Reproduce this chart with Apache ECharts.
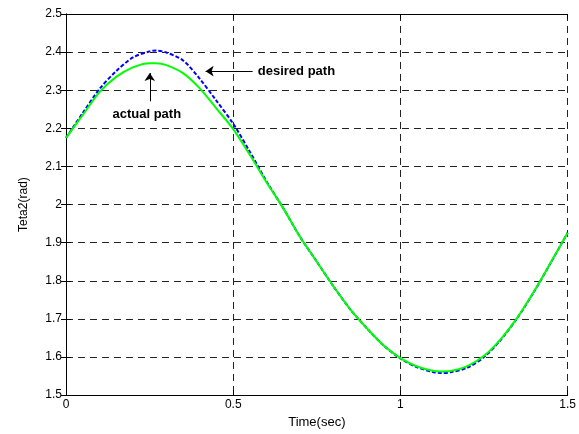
<!DOCTYPE html>
<html><head><meta charset="utf-8">
<script src="https://cdn.jsdelivr.net/npm/echarts@6/dist/echarts.min.js"></script>
<style>html,body{margin:0;padding:0;background:#fff}#c{width:579px;height:434px}</style>
</head><body><div id="c"></div>
<script>
var timeSec = [0,0.05,0.10,0.15,0.20,0.25,0.27,0.30,0.35,0.40,0.45,0.50,0.55,0.60,0.65,0.70,0.75,0.80,0.85,0.90,0.95,1.00,1.05,1.10,1.12,1.15,1.20,1.25,1.30,1.35,1.40,1.45,1.50];
var desiredPath = [2.175,2.240,2.303,2.350,2.386,2.402,2.404,2.399,2.378,2.330,2.272,2.212,2.138,2.060,1.990,1.915,1.850,1.785,1.725,1.675,1.630,1.596,1.573,1.560,1.558,1.560,1.572,1.600,1.645,1.703,1.772,1.848,1.926];
var actualPath  = [2.175,2.235,2.295,2.335,2.360,2.371,2.371,2.366,2.345,2.305,2.252,2.198,2.130,2.058,1.990,1.915,1.850,1.785,1.725,1.675,1.630,1.597,1.575,1.563,1.562,1.563,1.576,1.603,1.647,1.704,1.773,1.849,1.926];
var xTicks = [0,0.5,1,1.5];
var yTicks = [1.5,1.6,1.7,1.8,1.9,2,2.1,2.2,2.3,2.4,2.5];
var xName = 'Time(sec)';
var yName = 'Teta2(rad)';
var desiredLabel = 'desired path';
var actualLabel = 'actual path';

function pairs(xs, ys){ return xs.map(function(x,i){return [x, ys[i]];}); }

var font = 'Liberation Sans, Arial, sans-serif';
var gridDash = {color:'#222', type:[7,5], width:1};
var chart = echarts.init(document.getElementById('c'), null, {renderer:'canvas'});
var xmin = xTicks[0], xmax = xTicks[xTicks.length-1];
var ymin = yTicks[0], ymax = yTicks[yTicks.length-1];
chart.setOption({
  animation:false,
  backgroundColor:'#fff',
  grid:{left:66,right:10,top:14,bottom:35,show:false},
  xAxis:[{
    type:'value', min:xmin, max:xmax, interval:0.5,
    name:xName, nameLocation:'middle', nameGap:17,
    nameTextStyle:{color:'#000',fontFamily:font,fontSize:13},
    axisLine:{show:true,lineStyle:{color:'#000',width:1}},
    axisTick:{show:true,inside:true,length:5,lineStyle:{color:'#000'}},
    axisLabel:{color:'#000',fontFamily:font,fontSize:12,margin:4},
    splitLine:{show:true,lineStyle:gridDash}
  },{
    type:'value', min:xmin, max:xmax, interval:0.5, position:'top',
    axisLine:{show:true,lineStyle:{color:'#000',width:1}},
    axisTick:{show:true,inside:true,length:5,lineStyle:{color:'#000'}},
    axisLabel:{show:false}, splitLine:{show:false}
  }],
  yAxis:[{
    type:'value', min:ymin, max:ymax, interval:0.1,
    name:yName, nameLocation:'middle', nameGap:36,
    nameTextStyle:{color:'#000',fontFamily:font,fontSize:12},
    axisLine:{show:true,lineStyle:{color:'#000',width:1}},
    axisTick:{show:true,inside:true,length:5,lineStyle:{color:'#000'}},
    axisLabel:{color:'#000',fontFamily:font,fontSize:12,margin:4},
    splitLine:{show:true,lineStyle:gridDash}
  },{
    type:'value', min:ymin, max:ymax, interval:0.1, position:'right',
    axisLine:{show:true,lineStyle:{color:'#000',width:1}},
    axisTick:{show:true,inside:true,length:5,lineStyle:{color:'#000'}},
    axisLabel:{show:false}, splitLine:{show:false}
  }],
  series:[{
    type:'line', name:desiredLabel, data:pairs(timeSec,desiredPath),
    smooth:0.3, showSymbol:false, z:2,
    lineStyle:{color:'#0000ff',width:2,type:[4,2]}
  },{
    type:'line', name:actualLabel, data:pairs(timeSec,actualPath),
    smooth:0.3, showSymbol:false, z:3,
    lineStyle:{color:'#00ff00',width:2},
    markLine:{
      silent:true, animation:false,
      symbol:['none','arrow'], symbolSize:8,
      lineStyle:{color:'#000',width:1,type:'solid'},
      label:{show:false},
      data:[
        [{coord:[0.558,2.350]},{coord:[0.4175,2.350]}],
        [{coord:[0.2505,2.271]},{coord:[0.2505,2.345]}]
      ]
    },
    markPoint:{
      silent:true, animation:false, symbol:'circle', symbolSize:0,
      label:{show:true,color:'#000',fontFamily:font,fontSize:13,fontWeight:'bold'},
      data:[
        {coord:[0.5735,2.350], label:{formatter:desiredLabel, position:'right', distance:0, align:'left'}},
        {coord:[0.2416,2.237], label:{formatter:actualLabel, position:'inside', align:'center', verticalAlign:'middle'}}
      ]
    }
  }]
});
</script></body></html>
